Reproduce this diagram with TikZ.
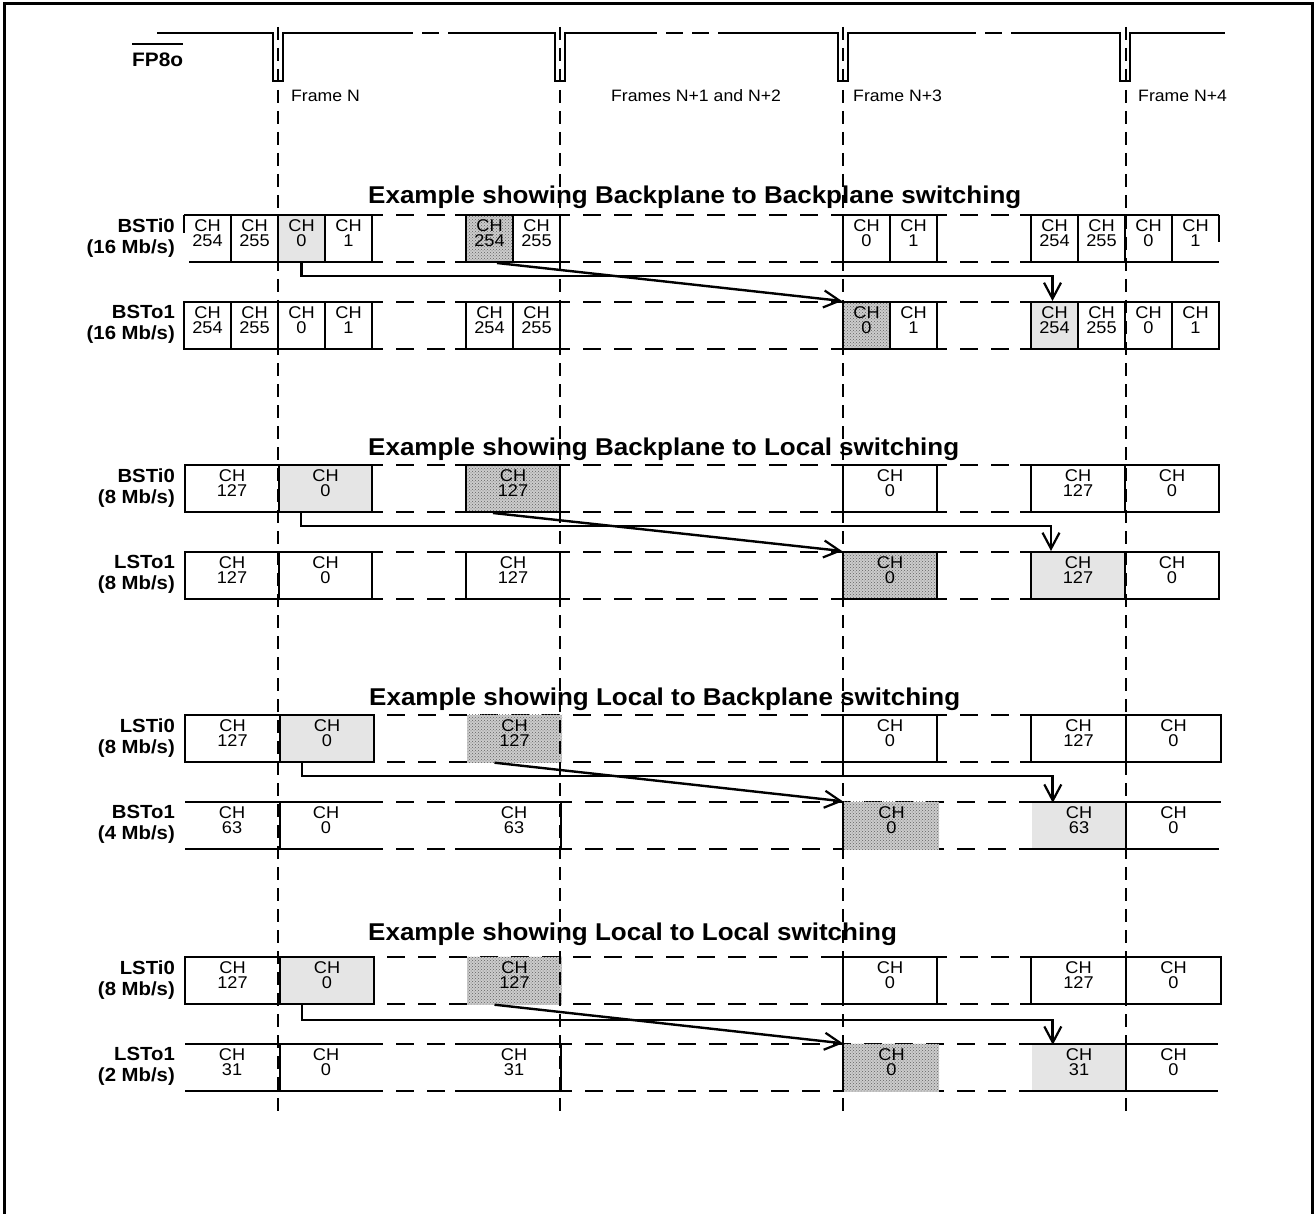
\documentclass[tikz,border=0pt]{standalone}
\usepackage{fontspec}
\setmainfont[FakeStretch=1.07]{Liberation Sans}
\usetikzlibrary{arrows.meta,patterns}
\tikzset{
 rl/.style={line width=2pt},
 rld/.style={line width=2pt, dash pattern=on 18pt off 13pt, dash phase=18pt},
 chbox/.style={draw, line width=2pt, inner sep=0pt, minimum height=47pt},
 chlite/.style={chbox, fill=black!10},
 chhatch/.style={chbox, preaction={fill=black!20}, pattern=crosshatch dots, pattern color=black!62},
 chnone/.style={inner sep=0pt, minimum height=47pt},
 filllite/.style={inner sep=0pt, minimum height=45pt, fill=black!10},
 fillhatch/.style={inner sep=0pt, minimum height=48pt, preaction={fill=black!20}, pattern=crosshatch dots, pattern color=black!62},
 chtxt/.style={inner sep=0pt, align=center, font=\fontsize{17pt}{15pt}\selectfont},
 rowlab/.style={inner sep=0pt, align=right, anchor=east, font=\fontsize{19pt}{21pt}\selectfont\bfseries},
 extitle/.style={inner sep=0pt, anchor=base west, font=\fontsize{24.3pt}{28pt}\selectfont\bfseries},
 frametxt/.style={inner sep=0pt, anchor=base west, font=\fontsize{16.5pt}{20pt}\selectfont},
 framel/.style={line width=2pt, dash pattern=on 13pt off 8pt},
 sig/.style={line width=2pt},
 sigd/.style={line width=2pt, dash pattern=on 17pt off 9pt},
 conn/.style={line width=2.8pt, -{Straight Barb[length=16pt,width=17pt,line width=2.2pt]}},
 conn2/.style={line width=2.4pt, -{Straight Barb[length=16pt,width=17pt,line width=2.2pt]}},
}
% #1 name, #2 x1, #3 width, #4 top, #5 style, #6 number
\newcommand\chan[6]{%
 \node[#5, minimum width=#3pt] (#1) at ({#2+#3/2},{#4+23.5}) {};
 \node[chtxt] (#1t) at ({#2+#3/2},{#4+18.3}) {CH\\#6};
}
\newcommand\seglineS[3]{%
 \draw[rl] (#2,#1) -- (383,#1) (455,#1) -- (570,#1) (832,#1) -- (947,#1) (1020,#1) -- (#3,#1);
 \draw[rld] (383,#1) -- (455,#1) (570,#1) -- (832,#1) (947,#1) -- (1020,#1);}
\newcommand\seglineA[3]{%
 \draw[rl] (#2,#1) -- (374,#1) (832,#1) -- (947,#1) (1020,#1) -- (#3,#1);
 \draw[rld] (374,#1) -- (832,#1) (947,#1) -- (1020,#1);}
\newcommand\seglineB[3]{%
 \draw[rl] (#2,#1) -- (383,#1) (455,#1) -- (572,#1) (1020,#1) -- (#3,#1);
 \draw[rld] (383,#1) -- (455,#1) (572,#1) -- (1020,#1);}
\newcommand\rlab[4]{\node[rowlab] (#1) at (175,{#2+22.7}) {#3\\(#4)};}
\begin{document}
\begin{tikzpicture}[x=1pt,y=-1pt]
\useasboundingbox (0,0) rectangle (1316,1214);
\fill[white] (0,0) rectangle (1316,1214);
% outer frame
\draw[line width=3pt] (4,1240) -- (4,3.5) -- (1312.5,3.5) -- (1312.5,1240);

% FP8o signal
\node[inner sep=0pt, anchor=base west, font=\fontsize{19.5pt}{22pt}\selectfont\bfseries] (fp) at (132,67) {FP8o};
\draw[line width=2.5pt] ([yshift=9pt]fp.north west) -- ([yshift=9pt]fp.north east);
\draw[sig] (157,33) -- (273,33) -- (273,81) -- (283,81) -- (283,33) -- (396,33);
\draw[sigd] (396,33) -- (455,33);
\draw[sig] (455,33) -- (555,33) -- (555,81) -- (565,81) -- (565,33) -- (640,33);
\draw[sigd] (640,33) -- (735,33);
\draw[sig] (735,33) -- (838,33) -- (838,81) -- (848,81) -- (848,33) -- (959,33);
\draw[sigd] (959,33) -- (1018,33);
\draw[sig] (1018,33) -- (1120,33) -- (1120,81) -- (1130,81) -- (1130,33) -- (1225,33);

\node[frametxt] (fN) at (291,102) {Frame N};
\node[frametxt] (fN12) at (611,102) {Frames N+1 and N+2};
\node[frametxt] (fN3) at (853,102) {Frame N+3};
\node[frametxt] (fN4) at (1138,102) {Frame N+4};

% titles
\node[extitle] (t1) at (368,204) {Example showing Backplane to Backplane switching};
\node[extitle] (t2) at (368,455) {Example showing Backplane to Local switching};
\node[extitle] (t3) at (369,705) {Example showing Local to Backplane switching};
\node[extitle] (t4) at (368,940) {Example showing Local to Local switching};

% row labels
\rlab{la}{215}{BSTi0}{16 Mb/s}
\rlab{lb}{302}{BSTo1}{16 Mb/s}
\rlab{lc}{465}{BSTi0}{8 Mb/s}
\rlab{ld}{552}{LSTo1}{8 Mb/s}
\rlab{le}{715}{LSTi0}{8 Mb/s}
\rlab{lf}{802}{BSTo1}{4 Mb/s}
\rlab{lg}{957}{LSTi0}{8 Mb/s}
\rlab{lh}{1044}{LSTo1}{2 Mb/s}

% row lines
\seglineS{215}{184}{1219} \seglineS{262}{189}{1219}
\seglineS{302}{184}{1219} \seglineS{349}{184}{1219}
\seglineS{465}{185}{1219} \seglineS{512}{185}{1219}
\seglineS{552}{185}{1219} \seglineS{599}{185}{1219}
\seglineA{715}{185}{1221} \seglineA{762}{185}{1221}
\seglineB{802}{185}{1221} \seglineB{849}{185}{1219}
\seglineA{957}{185}{1221} \seglineA{1004}{185}{1221}
\seglineB{1044}{185}{1218} \seglineB{1091}{185}{1218}

% S1A BSTi0 16 Mb/s
\chan{a1}{184}{47}{215}{chnone}{254}
\chan{a2}{231}{47}{215}{chbox}{255}
\chan{a3}{278}{47}{215}{chlite}{0}
\chan{a4}{325}{47}{215}{chbox}{1}
\chan{a5}{466}{47}{215}{chhatch}{254}
\chan{a6}{513}{47}{215}{chbox}{255}
\chan{a7}{843}{47}{215}{chbox}{0}
\chan{a8}{890}{47}{215}{chbox}{1}
\chan{a9}{1031}{47}{215}{chbox}{254}
\chan{a10}{1078}{47}{215}{chbox}{255}
\chan{a11}{1125}{47}{215}{chbox}{0}
\chan{a12}{1172}{47}{215}{chnone}{1}
\draw[rl] (a1.north west) -- ([yshift=-18pt]a1.north west);
\draw[rl] (a12.north east) -- ([yshift=-27pt]a12.north east);

% S1B BSTo1 16 Mb/s
\chan{b1}{184}{47}{302}{chbox}{254}
\chan{b2}{231}{47}{302}{chbox}{255}
\chan{b3}{278}{47}{302}{chbox}{0}
\chan{b4}{325}{47}{302}{chbox}{1}
\chan{b5}{466}{47}{302}{chbox}{254}
\chan{b6}{513}{47}{302}{chbox}{255}
\chan{b7}{843}{47}{302}{chhatch}{0}
\chan{b8}{890}{47}{302}{chbox}{1}
\chan{b9}{1031}{47}{302}{chlite}{254}
\chan{b10}{1078}{47}{302}{chbox}{255}
\chan{b11}{1125}{47}{302}{chbox}{0}
\chan{b12}{1172}{47}{302}{chbox}{1}

% S2A BSTi0 8 Mb/s
\chan{c1}{185}{94}{465}{chbox}{127}
\chan{c2}{279}{93}{465}{chlite}{0}
\chan{c3}{466}{94}{465}{chhatch}{127}
\chan{c4}{843}{94}{465}{chbox}{0}
\chan{c5}{1031}{94}{465}{chbox}{127}
\chan{c6}{1125}{94}{465}{chbox}{0}

% S2B LSTo1 8 Mb/s
\chan{d1}{185}{94}{552}{chbox}{127}
\chan{d2}{279}{93}{552}{chbox}{0}
\chan{d3}{466}{94}{552}{chbox}{127}
\chan{d4}{843}{94}{552}{chhatch}{0}
\chan{d5}{1031}{94}{552}{chlite}{127}
\chan{d6}{1125}{94}{552}{chbox}{0}

% S3A LSTi0 8 Mb/s
\chan{e1}{185}{95}{715}{chbox}{127}
\chan{e2}{280}{94}{715}{chlite}{0}
\chan{e3}{467}{95}{715}{fillhatch}{127}
\chan{e4}{843}{94}{715}{chbox}{0}
\chan{e5}{1031}{95}{715}{chbox}{127}
\chan{e6}{1126}{95}{715}{chbox}{0}

% S3B BSTo1 4 Mb/s
\chan{f1}{185}{94}{802}{chnone}{63}
\chan{f2}{279}{94}{802}{chnone}{0}
\chan{f3}{467}{94}{802}{chnone}{63}
\chan{f4}{844}{95}{802}{fillhatch}{0}
\chan{f5}{1032}{94}{802}{filllite}{63}
\chan{f6}{1126}{95}{802}{chnone}{0}
\draw[rl] ([xshift=1pt]f2.north west) -- ([xshift=1pt]f2.south west);
\draw[rl] (f3.north east) -- (f3.south east);
\draw[rl] ([xshift=-1pt]f4.north west) -- ([xshift=-1pt]f4.south west);
\draw[rl] (f5.north east) -- (f5.south east);

% S4A LSTi0 8 Mb/s
\chan{g1}{185}{95}{957}{chbox}{127}
\chan{g2}{280}{94}{957}{chlite}{0}
\chan{g3}{467}{95}{957}{fillhatch}{127}
\chan{g4}{843}{94}{957}{chbox}{0}
\chan{g5}{1031}{95}{957}{chbox}{127}
\chan{g6}{1126}{95}{957}{chbox}{0}

% S4B LSTo1 2 Mb/s
\chan{h1}{185}{94}{1044}{chnone}{31}
\chan{h2}{279}{94}{1044}{chnone}{0}
\chan{h3}{467}{94}{1044}{chnone}{31}
\chan{h4}{844}{95}{1044}{fillhatch}{0}
\chan{h5}{1032}{94}{1044}{filllite}{31}
\chan{h6}{1126}{95}{1044}{chnone}{0}
\draw[rl] ([xshift=1pt]h2.north west) -- ([xshift=1pt]h2.south west);
\draw[rl] (h3.north east) -- (h3.south east);
\draw[rl] ([xshift=-1pt]h4.north west) -- ([xshift=-1pt]h4.south west);
\draw[rl] (h5.north east) -- (h5.south east);

% frame boundaries
\foreach \fx in {278,560,843,1126} \draw[framel] (\fx,27) -- (\fx,1112);

% connectors
\draw[conn] (a3.south) -- ++(0,13) -| ([xshift=-2pt]b9.north);
\draw[conn2] ([xshift=7.5pt]a5.south) -- (b7.north west);
\draw[conn] ([xshift=23pt]c2.south west) -- ++(0,13) -| ([xshift=21pt]d5.north west);
\draw[conn2] ([xshift=-20pt]c3.south) -- (d4.north west);
\draw[conn] ([xshift=23pt]e2.south west) -- ++(0,13) -| ([xshift=21pt]f5.north west);
\draw[conn2] ([xshift=-20pt]e3.south) -- ([xshift=-1pt]f4.north west);
\draw[conn] ([xshift=23pt]g2.south west) -- ++(0,15) -| ([xshift=21pt]h5.north west);
\draw[conn2] ([xshift=-20pt]g3.south) -- ([xshift=-1pt]h4.north west);
\end{tikzpicture}
\end{document}
